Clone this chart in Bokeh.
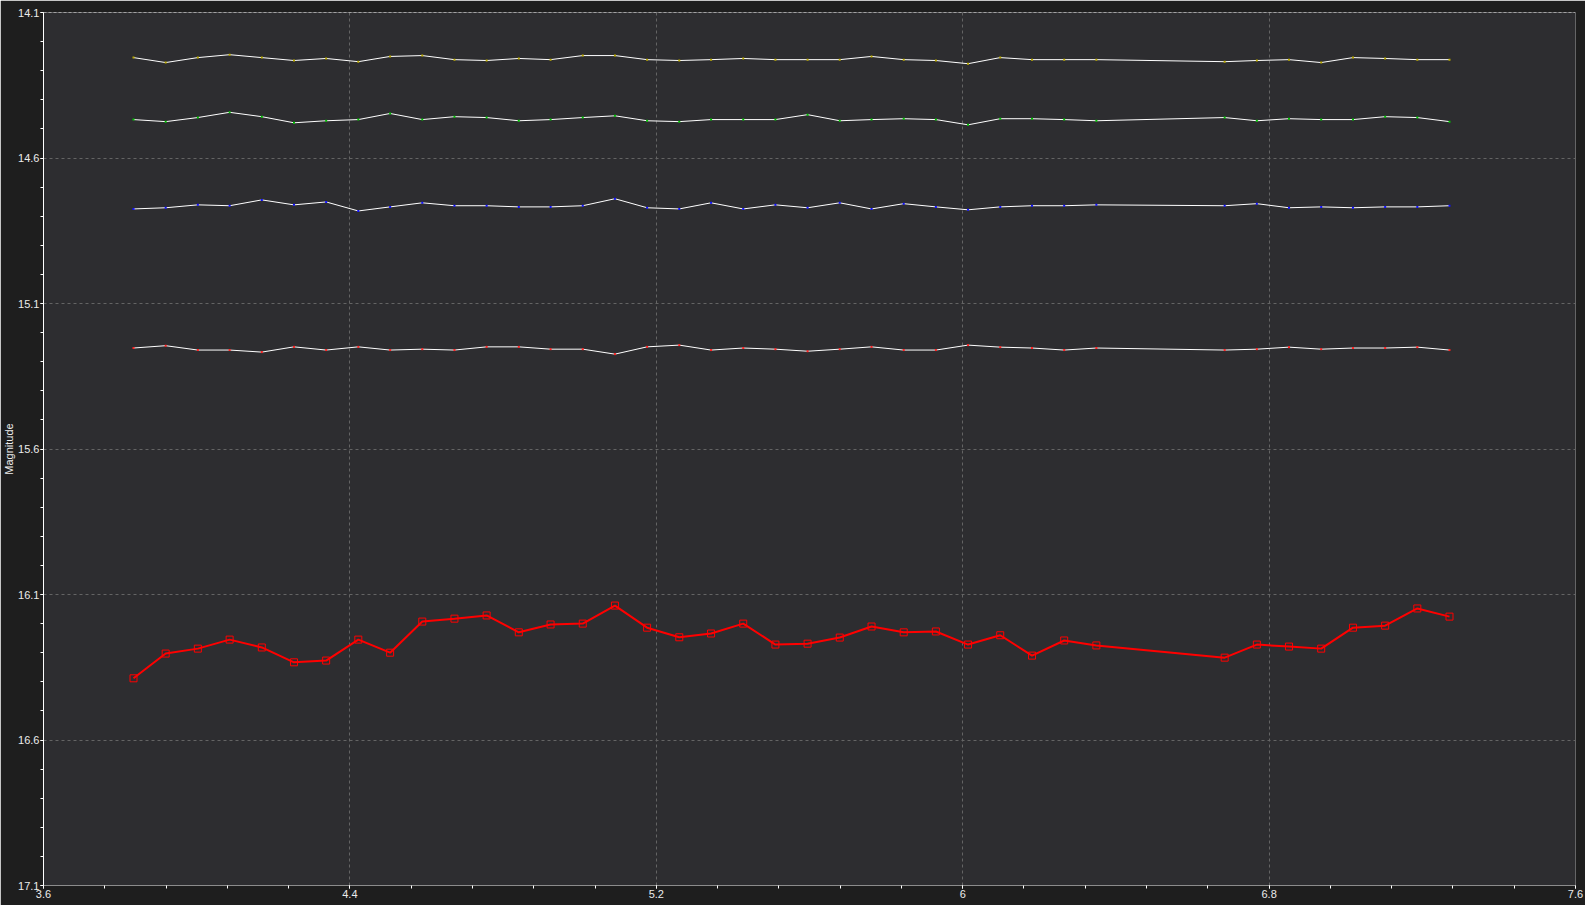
from bokeh.plotting import figure
from bokeh.models import Range1d, FixedTicker, CustomJSTickFormatter, Span
from bokeh.embed import file_html
from bokeh.resources import INLINE

# ---- data ----
time_x = [3.835, 3.919, 4.003, 4.086, 4.170, 4.254, 4.338, 4.422, 4.505, 4.589,
          4.673, 4.757, 4.841, 4.924, 5.008, 5.092, 5.176, 5.260, 5.343, 5.427,
          5.511, 5.595, 5.679, 5.762, 5.846, 5.930, 6.014, 6.098, 6.181, 6.265,
          6.349, 6.684, 6.768, 6.852, 6.936, 7.019, 7.103, 7.187, 7.271]

target_mag = [16.388, 16.303, 16.286, 16.255, 16.282, 16.333, 16.327, 16.255, 16.300, 16.193,
              16.183, 16.172, 16.230, 16.203, 16.200, 16.138, 16.214, 16.247, 16.234, 16.200,
              16.272, 16.269, 16.248, 16.210, 16.230, 16.227, 16.272, 16.240, 16.310, 16.258,
              16.275, 16.317, 16.272, 16.279, 16.286, 16.214, 16.207, 16.148, 16.176]

comp_a = [14.255, 14.272, 14.255, 14.245, 14.255, 14.265, 14.258, 14.269, 14.251, 14.248,
          14.262, 14.265, 14.258, 14.262, 14.248, 14.248, 14.262, 14.265, 14.262, 14.258,
          14.262, 14.262, 14.262, 14.251, 14.262, 14.265, 14.276, 14.255, 14.262, 14.262,
          14.262, 14.269, 14.265, 14.262, 14.272, 14.255, 14.258, 14.262, 14.262]

comp_b = [14.468, 14.475, 14.461, 14.443, 14.458, 14.479, 14.472, 14.468, 14.447, 14.468,
          14.458, 14.461, 14.472, 14.468, 14.461, 14.455, 14.472, 14.475, 14.468, 14.468,
          14.468, 14.451, 14.472, 14.468, 14.465, 14.468, 14.486, 14.465, 14.465, 14.468,
          14.472, 14.461, 14.472, 14.465, 14.468, 14.468, 14.458, 14.461, 14.475]

comp_c = [14.775, 14.771, 14.761, 14.764, 14.744, 14.761, 14.751, 14.782, 14.768, 14.754,
          14.764, 14.764, 14.768, 14.768, 14.764, 14.740, 14.771, 14.775, 14.754, 14.775,
          14.761, 14.771, 14.754, 14.775, 14.757, 14.768, 14.778, 14.768, 14.764, 14.764,
          14.761, 14.764, 14.757, 14.771, 14.768, 14.771, 14.768, 14.768, 14.764]

comp_d = [15.253, 15.245, 15.260, 15.260, 15.267, 15.249, 15.260, 15.249, 15.260, 15.257,
          15.260, 15.249, 15.249, 15.257, 15.257, 15.274, 15.249, 15.243, 15.260, 15.253,
          15.257, 15.264, 15.257, 15.249, 15.260, 15.260, 15.243, 15.250, 15.253, 15.260,
          15.253, 15.260, 15.257, 15.250, 15.257, 15.253, 15.253, 15.250, 15.260]

x_ticks = [3.6, 4.4, 5.2, 6.0, 6.8, 7.6]
y_ticks = [14.1, 14.6, 15.1, 15.6, 16.1, 16.6, 17.1]
y_label = "Magnitude"

# ---- styling ----
BG_PLOT = "#2d2d30"
BG_OUT = "#1e1e1e"
GRID = "#646464"
TXT = "#ececec"

x_minor = [round(x_ticks[0] + 0.16 * k, 2) for k in range(0, 26)]
y_minor = [round(y_ticks[0] + 0.1 * k, 2) for k in range(0, 31)]

p = figure(width=1585, height=905, output_backend="svg", toolbar_location=None,
           x_range=Range1d(3.6, 7.6), y_range=Range1d(17.1, 14.1),
           min_border_left=30, min_border_right=10, min_border_top=12, min_border_bottom=20)

p.background_fill_color = BG_PLOT
p.border_fill_color = BG_OUT
p.outline_line_color = None

fmt = CustomJSTickFormatter(code="return (Math.round(tick*10)/10).toString();")

p.xaxis.ticker = FixedTicker(ticks=x_ticks, minor_ticks=x_minor)
p.yaxis.ticker = FixedTicker(ticks=y_ticks, minor_ticks=y_minor)
p.xaxis.formatter = fmt
p.yaxis.formatter = fmt

for ax in (p.xaxis[0], p.yaxis[0]):
    ax.major_label_text_font = "Liberation Sans"
    ax.major_label_text_font_size = "11px"
    ax.major_label_text_color = TXT
    ax.major_tick_in = 0
    ax.major_tick_out = 3
    ax.minor_tick_in = 0
    ax.minor_tick_out = 3
    ax.major_tick_line_color = "#ffffff"
    ax.minor_tick_line_color = "#ffffff"

p.yaxis.major_label_standoff = 1
p.xaxis.major_label_standoff = 1
p.yaxis.axis_line_color = "#ffffff"
p.xaxis.axis_line_color = "#8c8c8c"
p.yaxis.axis_label = y_label
p.yaxis.axis_label_text_font = "Liberation Sans"
p.yaxis.axis_label_text_font_size = "11px"
p.yaxis.axis_label_text_font_style = "normal"
p.yaxis.axis_label_text_color = TXT
p.yaxis.axis_label_standoff = 0

p.xgrid.ticker = FixedTicker(ticks=x_ticks[1:-1])
p.ygrid.ticker = FixedTicker(ticks=y_ticks[1:-1])
for g in (p.xgrid[0], p.ygrid[0]):
    g.grid_line_color = GRID
    g.grid_line_dash = "3 3"
    g.grid_line_width = 1

p.add_layout(Span(location=y_ticks[0], dimension="width", line_color="#e6e6e6",
                  line_dash="3 2", line_width=1))
p.add_layout(Span(location=x_ticks[-1], dimension="height", line_color="#6e6e6e",
                  line_width=1))

# comparison stars
for ys, dot in ((comp_a, "#b8a800"), (comp_b, "#00c000"), (comp_c, "#1010ff"), (comp_d, "#ff2020")):
    p.line(time_x, ys, line_color="#ffffff", line_width=1)
    p.scatter(time_x, ys, marker="square", size=2, fill_color=dot, line_color=None)

# target star
p.line(time_x, target_mag, line_color="#ff0000", line_width=2)
p.scatter(time_x, target_mag, marker="square", size=7, fill_color=None,
          line_color="#ff0000", line_width=1)

open("out.html", "w").write(file_html(p, INLINE))
